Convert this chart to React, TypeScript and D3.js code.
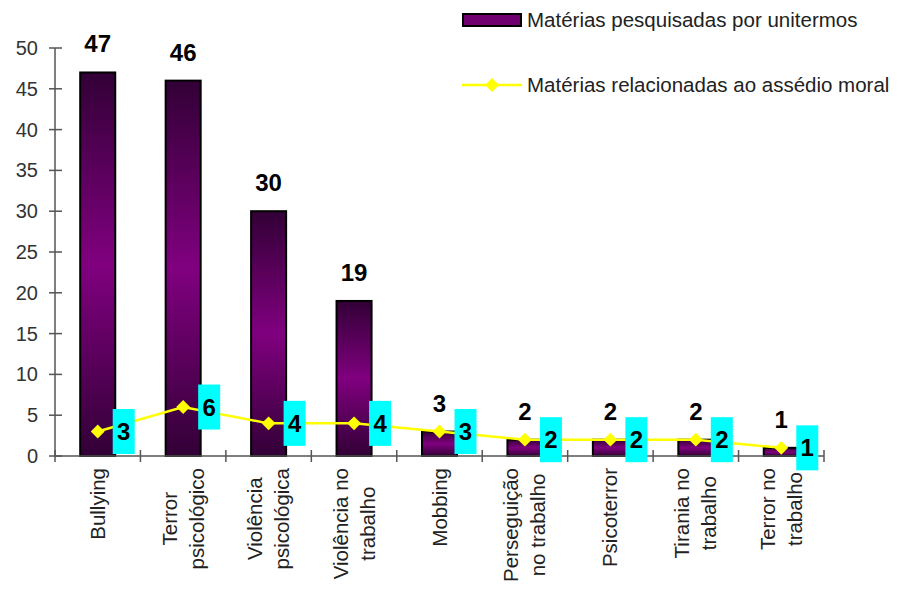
import * as d3 from "d3";
import { useRef, useEffect } from "react";

const categories = [
  "Bullying",
  "Terror\npsicológico",
  "Violência\npsicológica",
  "Violência no\ntrabalho",
  "Mobbing",
  "Perseguição\nno trabalho",
  "Psicoterror",
  "Tirania no\ntrabalho",
  "Terror no\ntrabalho",
];
const searched = [47, 46, 30, 19, 3, 2, 2, 2, 1];
const related = [3, 6, 4, 4, 3, 2, 2, 2, 1];
const yTicks = [0, 5, 10, 15, 20, 25, 30, 35, 40, 45, 50];
const legendBar = "Matérias pesquisadas por unitermos";
const legendLine = "Matérias relacionadas ao assédio moral";

const width = 898;
const height = 590;
const marginLeft = 55;
const marginRight = 74;
const marginTop = 48;
const axisY = 456;
const labelTop = 468;
const font = "Arial, 'Liberation Sans', sans-serif";

const x = d3
  .scaleBand<string>()
  .domain(categories)
  .range([marginLeft, width - marginRight]);
const y = d3.scaleLinear().domain([0, 50]).range([axisY, marginTop]);

const cx = (c: string) => (x(c) as number) + x.bandwidth() / 2;
const barW = x.bandwidth() * 0.41;

const diamond = d3.symbol(d3.symbolSquare, 96)() as string;

const App = () => {
  const gLabels = useRef<SVGGElement>(null);

  useEffect(() => {
    if (!gLabels.current) return;
    const g = d3.select(gLabels.current);
    g.selectAll("*").remove();
    categories.forEach((c) => {
      const lines = c.split("\n");
      const texts = lines.map((l) =>
        g
          .append("text")
          .text(l)
          .attr("font-family", font)
          .attr("font-size", 20.5)
          .attr("fill", "#222")
          .attr("text-anchor", "middle")
      );
      const widths = texts.map((t) =>
        (t.node() as SVGTextElement).getComputedTextLength()
      );
      const mid = labelTop + (d3.max(widths) as number) / 2;
      texts.forEach((t, i) =>
        t.attr(
          "transform",
          `translate(${cx(c) + 7 + (i - (lines.length - 1) / 2) * 27},${mid}) rotate(-90)`
        )
      );
    });
  }, []);

  const line = d3
    .line<number>()
    .x((_, i) => cx(categories[i]))
    .y((d) => y(d));

  const edges = [...categories.map((c) => x(c) as number), width - marginRight];

  return (
    <svg
      width={width}
      height={height}
      viewBox={`0 0 ${width} ${height}`}
      style={{ position: "absolute", left: 0, top: 0, background: "#fff" }}
    >
      <defs>
        <linearGradient id="barGrad" x1="0" y1="0" x2="0" y2="1">
          <stop offset="0%" stopColor="#320036" />
          <stop offset="50%" stopColor="#80007f" />
          <stop offset="100%" stopColor="#320036" />
        </linearGradient>
      </defs>

      {/* y axis */}
      <line x1={marginLeft} x2={marginLeft} y1={y(50)} y2={axisY} stroke="#555" strokeWidth={1.5} />
      {yTicks.map((t) => (
        <g key={t}>
          <line x1={marginLeft - 6} x2={marginLeft + 7} y1={y(t)} y2={y(t)} stroke="#555" strokeWidth={1.5} />
          <text
            x={38}
            y={y(t) + 7}
            textAnchor="end"
            fontFamily={font}
            fontSize={20}
            fill="#333"
          >
            {t}
          </text>
        </g>
      ))}

      {/* bars */}
      {categories.map((c, i) => (
        <g key={c}>
          <rect
            x={cx(c) - barW / 2}
            y={y(searched[i])}
            width={barW}
            height={axisY - y(searched[i])}
            fill="url(#barGrad)"
            stroke="#000"
            strokeWidth={2}
          />
          <text
            x={cx(c)}
            y={y(searched[i]) - 20}
            textAnchor="middle"
            fontFamily={font}
            fontWeight="bold"
            fontSize={24}
            fill="#000"
          >
            {searched[i]}
          </text>
        </g>
      ))}

      {/* x axis */}
      <line x1={marginLeft} x2={width - marginRight} y1={axisY} y2={axisY} stroke="#555" strokeWidth={1.5} />
      {edges.map((e, i) => (
        <line key={i} x1={e} x2={e} y1={axisY - 6} y2={axisY + 6} stroke="#555" strokeWidth={1.5} />
      ))}

      {/* line series */}
      <path d={line(related) as string} fill="none" stroke="#ffff00" strokeWidth={2.5} />
      {categories.map((c, i) => (
        <path
          key={c}
          d={diamond}
          transform={`translate(${cx(c)},${y(related[i])}) rotate(45)`}
          fill="#ffff00"
        />
      ))}
      {categories.map((c, i) => (
        <g key={c}>
          <rect x={cx(c) + 15} y={y(related[i]) - 22.5} width={22} height={45} fill="#00ffff" />
          <text
            x={cx(c) + 26}
            y={y(related[i]) + 8.5}
            textAnchor="middle"
            fontFamily={font}
            fontWeight="bold"
            fontSize={24}
            fill="#000"
          >
            {related[i]}
          </text>
        </g>
      ))}

      <g ref={gLabels} />

      {/* legend */}
      <rect x={463} y={14} width={58} height={12} fill="#700070" stroke="#000" strokeWidth={2} />
      <text x={527} y={27} fontFamily={font} fontSize={20.5} fill="#222">
        {legendBar}
      </text>
      <line x1={462} x2={522} y1={85} y2={85} stroke="#ffff00" strokeWidth={2.5} />
      <path d={diamond} transform="translate(492,85) rotate(45)" fill="#ffff00" />
      <text x={527} y={92} fontFamily={font} fontSize={20.5} fill="#222">
        {legendLine}
      </text>
    </svg>
  );
};

export default App;
